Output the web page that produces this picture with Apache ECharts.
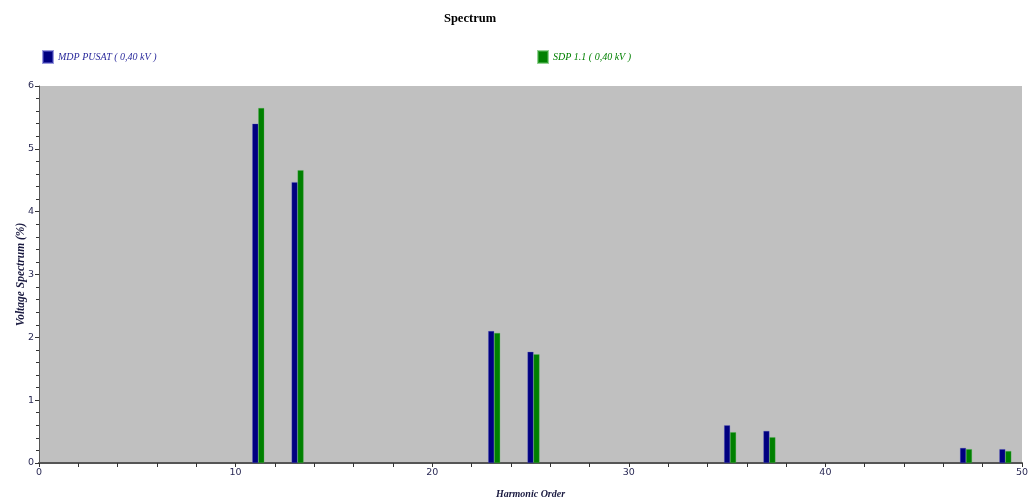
<!DOCTYPE html>
<html><head><meta charset="utf-8">
<script src="https://cdn.jsdelivr.net/npm/echarts@6/dist/echarts.min.js"></script>
<style>html,body{margin:0;padding:0;background:#fff}#c{width:1029px;height:501px}</style>
</head><body><div id="c"></div>
<script>
const harmonics = [11, 13, 23, 25, 35, 37, 47, 49];
const mdpPusat = [5.40, 4.47, 2.10, 1.77, 0.60, 0.51, 0.24, 0.22];
const sdp11 = [5.65, 4.66, 2.07, 1.73, 0.49, 0.41, 0.22, 0.19];
const seriesNames = ['MDP PUSAT ( 0,40 kV )', 'SDP 1.1 ( 0,40 kV )'];

const chart = echarts.init(document.getElementById('c'));
const lblFont = {fontFamily: 'DejaVu Sans', fontSize: 9.5, color: '#2a2a55'};
chart.setOption({
  animation: false,
  title: {text: 'Spectrum', left: 470, top: 12, textAlign: 'center', padding: 0,
    textStyle: {fontFamily: 'Liberation Serif', fontWeight: 'bold', fontSize: 12.5, color: '#000'}},
  legend: [
    {data: [seriesNames[0]], left: 42, top: 50, padding: 0, itemWidth: 10, itemHeight: 12, itemGap: 4, icon: 'rect',
      textStyle: {fontFamily: 'Liberation Serif', fontStyle: 'italic', fontSize: 10, color: '#2a2a9c'}},
    {data: [seriesNames[1]], left: 537, top: 50, padding: 0, itemWidth: 10, itemHeight: 12, itemGap: 4, icon: 'rect',
      textStyle: {fontFamily: 'Liberation Serif', fontStyle: 'italic', fontSize: 10, color: '#008000'}}
  ],
  grid: {left: 39, right: 7, top: 86, bottom: 38, outerBoundsMode: 'none', containLabel: false,
    show: true, backgroundColor: '#c0c0c0', borderWidth: 0},
  xAxis: {
    type: 'value', min: 0, max: 50, interval: 10,
    name: 'Harmonic Order', nameLocation: 'middle', nameGap: 26, nameMoveOverlap: false,
    nameTextStyle: {fontFamily: 'Liberation Serif', fontStyle: 'italic', fontWeight: 'bold', fontSize: 10, color: '#1a1a40'},
    axisLine: {show: true, lineStyle: {color: '#555', width: 2}},
    axisTick: {show: true, length: 4, lineStyle: {color: '#333'}},
    minorTick: {show: true, splitNumber: 5, length: 4, lineStyle: {color: '#333'}},
    splitLine: {show: false},
    axisLabel: Object.assign({margin: 5}, lblFont)
  },
  yAxis: {
    type: 'value', min: 0, max: 6, interval: 1,
    name: 'Voltage Spectrum (%)', nameLocation: 'middle', nameGap: 12, nameMoveOverlap: false,
    nameTextStyle: {fontFamily: 'Liberation Serif', fontStyle: 'italic', fontWeight: 'bold', fontSize: 11.5, color: '#1a1a40'},
    axisLine: {show: true, lineStyle: {color: '#555', width: 1}},
    axisTick: {show: true, length: 4, lineStyle: {color: '#333'}},
    minorTick: {show: true, splitNumber: 5, length: 3, lineStyle: {color: '#333'}},
    splitLine: {show: false},
    axisLabel: Object.assign({margin: 5}, lblFont)
  },
  series: [
    {name: 'spacer', type: 'bar', barWidth: 6, barGap: '0%', data: [], silent: true},
    {name: seriesNames[0], type: 'bar', barWidth: 6, barGap: '0%',
      itemStyle: {color: '#000080', borderColor: 'rgba(90,90,200,0.6)', borderWidth: 0.5},
      data: harmonics.map((h, i) => [h, mdpPusat[i]])},
    {name: seriesNames[1], type: 'bar', barWidth: 6, barGap: '0%',
      itemStyle: {color: '#008000', borderColor: 'rgba(80,180,80,0.6)', borderWidth: 0.5},
      data: harmonics.map((h, i) => [h, sdp11[i]])}
  ]
});
</script></body></html>
